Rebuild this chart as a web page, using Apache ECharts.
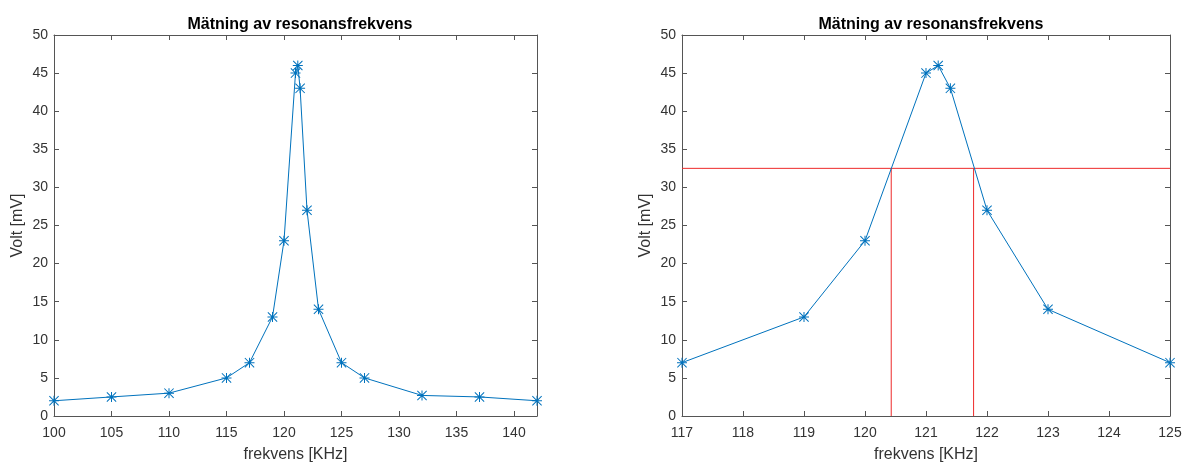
<!DOCTYPE html>
<html>
<head>
<meta charset="utf-8">
<script src="https://cdn.jsdelivr.net/npm/echarts@6/dist/echarts.min.js"></script>
<style>
  html, body { margin: 0; padding: 0; background: #fff; }
  #chart { width: 1182px; height: 463px; }
</style>
</head>
<body>
<div id="chart"></div>
<script>
// mätdata
var freq = [100, 105, 110, 115, 117, 119, 120, 121, 121.2, 121.4, 122, 123, 125, 127, 132, 137, 142];
var volt = [2, 2.5, 3, 5, 7, 13, 23, 45, 46, 43, 27, 14, 7, 5, 2.7, 2.5, 2];
// halva effekten (-3 dB) och gränsfrekvenser
var halfLevel = 32.5;
var fLow = 120.43;
var fHigh = 121.78;
var titleText = 'Mätning av resonansfrekvens';

var allPts = [];
var zoomPts = [];
for (var i = 0; i < freq.length; i++) {
  allPts.push([freq[i], volt[i]]);
  if (freq[i] >= 117 && freq[i] <= 125) zoomPts.push([freq[i], volt[i]]);
}

var blue = '#0072bd';
var red = '#ee2a2a';
var axisColor = '#555';
var font = '"Liberation Sans", Arial, Helvetica, sans-serif';
// asterisk markör
var star = 'path://M9 0 L11 0 L11 20 L9 20 Z M0 9 L20 9 L20 11 L0 11 Z M1.4 0 L20 18.6 L18.6 20 L0 1.4 Z M18.6 0 L20 1.4 L1.4 20 L0 18.6 Z';

function xAx(idx, min, max, step, show) {
  return {
    type: 'value', gridIndex: idx, min: min, max: max, interval: step,
    position: show ? 'bottom' : 'top',
    name: show ? 'frekvens [KHz]' : '', nameLocation: 'middle', nameGap: 31,
    nameTextStyle: { fontSize: 16, color: '#333', fontFamily: font },
    axisLine: { show: true, onZero: false, lineStyle: { color: axisColor, width: 1 } },
    axisTick: { show: true, inside: true, length: 5, lineStyle: { color: axisColor } },
    axisLabel: { show: show, showMaxLabel: max % step === 0, fontSize: 14, color: '#333', fontFamily: font, margin: 10 },
    splitLine: { show: false }
  };
}
function yAx(idx, show) {
  return {
    type: 'value', gridIndex: idx, min: 0, max: 50, interval: 5,
    position: show ? 'left' : 'right',
    name: show ? 'Volt [mV]' : '', nameLocation: 'middle', nameGap: 28,
    nameTextStyle: { fontSize: 16, color: '#333', fontFamily: font },
    axisLine: { show: true, onZero: false, lineStyle: { color: axisColor, width: 1 } },
    axisTick: { show: true, inside: true, length: 5, lineStyle: { color: axisColor } },
    axisLabel: { show: show, fontSize: 14, color: '#333', fontFamily: font, margin: 6 },
    splitLine: { show: false }
  };
}

var option = {
  backgroundColor: '#fff',
  animation: false,
  title: [
    { text: titleText, left: 295, top: 12, textAlign: 'center', textStyle: { fontSize: 16, fontWeight: 'bold', color: '#000', fontFamily: font } },
    { text: titleText, left: 926, top: 12, textAlign: 'center', textStyle: { fontSize: 16, fontWeight: 'bold', color: '#000', fontFamily: font } }
  ],
  grid: [
    { left: 54, top: 35, width: 483, height: 381, outerBoundsMode: 'none' },
    { left: 682, top: 35, width: 488, height: 381, outerBoundsMode: 'none' }
  ],
  xAxis: [
    xAx(0, 100, 142, 5, true), xAx(0, 100, 142, 5, false),
    xAx(1, 117, 125, 1, true), xAx(1, 117, 125, 1, false)
  ],
  yAxis: [
    yAx(0, true), yAx(0, false),
    yAx(1, true), yAx(1, false)
  ],
  series: [
    {
      type: 'line', xAxisIndex: 0, yAxisIndex: 0, data: allPts,
      symbol: star, symbolSize: 10, showAllSymbol: true,
      lineStyle: { color: blue, width: 1 }, itemStyle: { color: blue }
    },
    {
      type: 'line', xAxisIndex: 2, yAxisIndex: 2, data: [[117, halfLevel], [125, halfLevel]],
      symbol: 'none', lineStyle: { color: red, width: 1 }
    },
    {
      type: 'line', xAxisIndex: 2, yAxisIndex: 2, data: [[fLow, 0], [fLow, halfLevel]],
      symbol: 'none', lineStyle: { color: red, width: 1 }
    },
    {
      type: 'line', xAxisIndex: 2, yAxisIndex: 2, data: [[fHigh, 0], [fHigh, halfLevel]],
      symbol: 'none', lineStyle: { color: red, width: 1 }
    },
    {
      type: 'line', xAxisIndex: 2, yAxisIndex: 2, data: zoomPts,
      symbol: star, symbolSize: 10, showAllSymbol: true,
      lineStyle: { color: blue, width: 1 }, itemStyle: { color: blue }
    }
  ]
};

var myChart = echarts.init(document.getElementById('chart'));
myChart.setOption(option);
</script>
</body>
</html>
